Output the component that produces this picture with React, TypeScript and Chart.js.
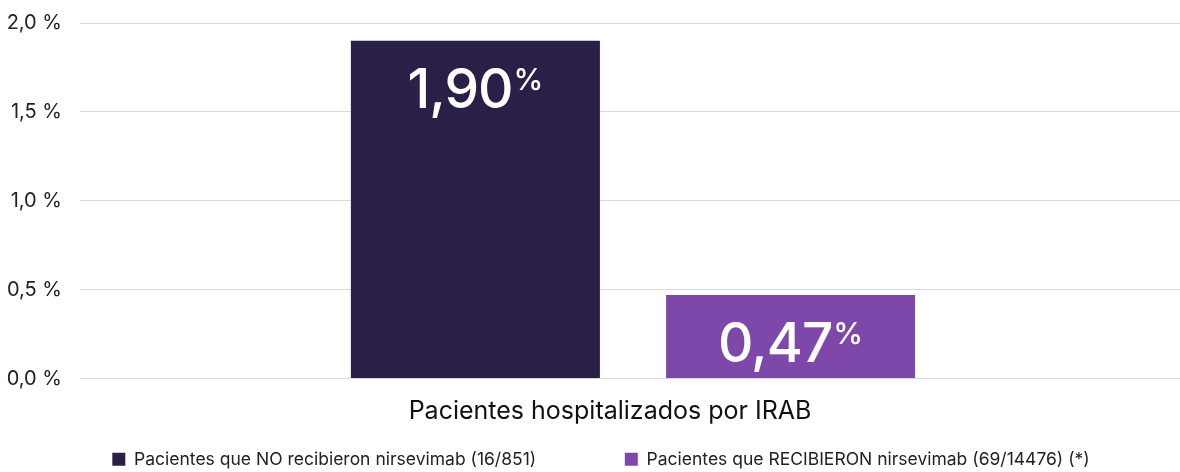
import React, { useEffect, useRef } from "react";
import { Chart, registerables } from "chart.js";

Chart.register(...registerables);

const categories = ["Pacientes hospitalizados por IRAB"];
const seriesNames = [
  "Pacientes que NO recibieron nirsevimab (16/851)",
  "Pacientes que RECIBIERON nirsevimab (69/14476) (*)",
];
const notReceived = [1.9];
const received = [0.47];
const yTicks = [0, 0.5, 1.0, 1.5, 2.0];

const FONT = "Inter, 'Noto Sans', sans-serif";
const COLORS = ["#2A1F46", "#7E48AA"];

const valueLabels = {
  id: "valueLabels",
  afterDatasetsDraw(chart: any) {
    const ctx = chart.ctx;
    chart.data.datasets.forEach((ds: any, di: number) => {
      const meta = chart.getDatasetMeta(di);
      meta.data.forEach((bar: any, i: number) => {
        const v = ds.data[i] as number;
        const main = v.toFixed(2).replace(".", ",");
        ctx.save();
        const mainFont = `500 55px ${FONT}`;
        const supFont = `500 30px ${FONT}`;
        (ctx as any).letterSpacing = "-1px";
        ctx.font = mainFont;
        const mw = ctx.measureText(main).width;
        (ctx as any).letterSpacing = "0px";
        ctx.font = supFont;
        const sw = ctx.measureText("%").width;
        const gap = 1;
        const total = mw + gap + sw;
        const x0 = bar.x - total / 2;
        const base = bar.y + 67;
        ctx.fillStyle = "#ffffff";
        ctx.textBaseline = "alphabetic";
        ctx.textAlign = "left";
        (ctx as any).letterSpacing = "-1px";
        ctx.font = mainFont;
        ctx.fillText(main, x0, base);
        (ctx as any).letterSpacing = "0px";
        ctx.font = supFont;
        ctx.fillText("%", x0 + mw + gap, base - 18);
        ctx.restore();
      });
    });
  },
};

const PAD1 = "                 ";
const PAD2 = "             ";

export default function App() {
  const ref = useRef<HTMLCanvasElement | null>(null);
  useEffect(() => {
    if (!ref.current) return;
    const chart = new Chart(ref.current, {
      type: "bar",
      data: {
        labels: categories,
        datasets: [
          {
            label: seriesNames[0],
            data: notReceived,
            backgroundColor: COLORS[0],
            categoryPercentage: 0.57,
            barPercentage: 0.79,
          },
          {
            label: seriesNames[1],
            data: received,
            backgroundColor: COLORS[1],
            categoryPercentage: 0.57,
            barPercentage: 0.79,
          },
        ],
      },
      options: {
        responsive: false,
        animation: false,
        layout: { padding: { top: 23, right: 0, left: 0, bottom: -6 } },
        scales: {
          x: {
            grid: { display: false },
            border: { display: false },
            afterFit: (scale: any) => {
              scale.height = 67;
            },
            ticks: {
              font: { family: FONT, size: 25 },
              color: "#111111",
              labelOffset: -23,
              padding: 10,
            },
          },
          y: {
            min: 0,
            max: 2,
            afterBuildTicks: (scale: any) => {
              scale.ticks = yTicks.map((v) => ({ value: v }));
            },
            afterFit: (scale: any) => {
              scale.width = 80;
              scale.paddingTop = 0;
              scale.paddingBottom = 0;
            },
            grid: { color: "#d9d9d9", drawTicks: false },
            border: { display: false },
            ticks: {
              font: { family: FONT, size: 20 },
              color: "#222222",
              padding: 18,
              callback: (v: any) => Number(v).toFixed(1).replace(".", ",") + " %",
            },
          },
        },
        plugins: {
          legend: {
            position: "bottom",
            fullSize: false,
            labels: {
              boxWidth: 13,
              boxHeight: 13,
              padding: 5,
              color: "#222222",
              font: { family: FONT, size: 17.5 },
              generateLabels: (chart: any) => {
                const items = Chart.defaults.plugins.legend.labels.generateLabels(chart);
                items.forEach((it: any, idx: number) => {
                  it.text = it.text + (idx === 0 ? PAD1 : PAD2);
                });
                return items;
              },
            },
          },
          tooltip: { enabled: false },
        },
      },
      plugins: [valueLabels],
    });
    return () => chart.destroy();
  }, []);
  return (
    <div style={{ position: "absolute", left: 0, top: 0, width: 1180, height: 472, overflow: "hidden" }}>
      <canvas ref={ref} width={1186} height={472} />
    </div>
  );
}
